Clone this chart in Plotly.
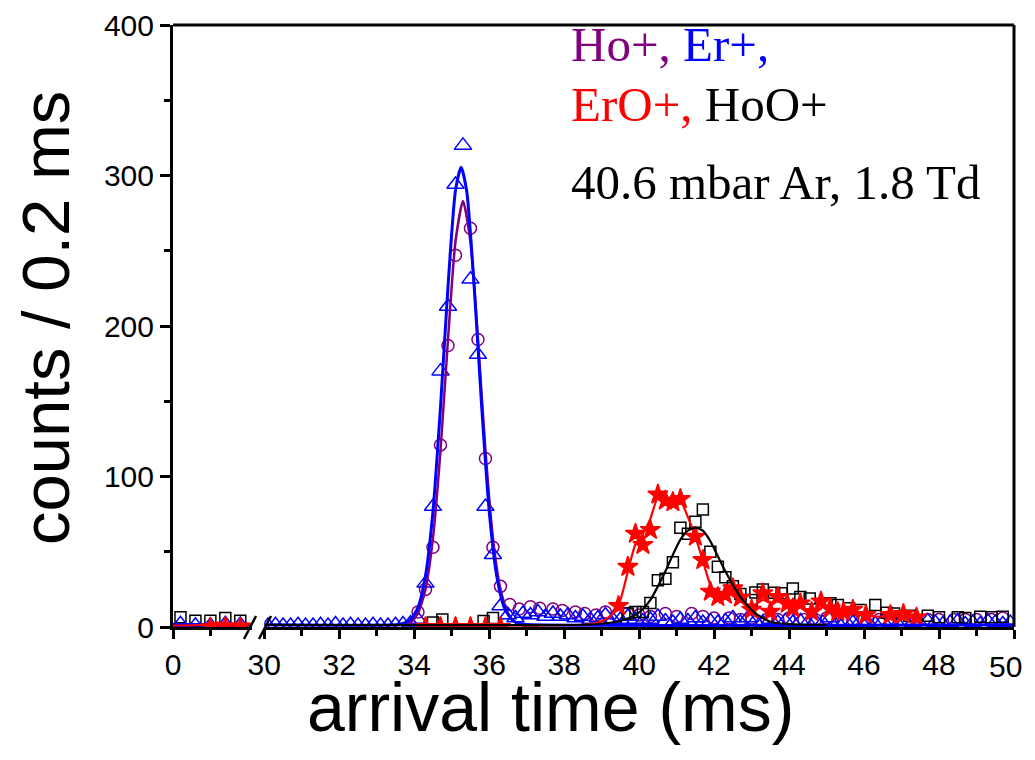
import plotly.graph_objects as go

# ---------------- data: first axis segment (0 - 2.1 ms) ----------------
s1_hoo_t = [0.2, 0.6, 1.0, 1.4, 1.8]
s1_hoo_v = [6.5, 4.2, 4.2, 6.0, 4.2]
s1_er_t = [0.2, 0.6, 1.0, 1.4, 1.8]
s1_er_v = [2.5, 1.5, 1.5, 2.5, 2.0]
s1_ero_t = [1.0, 1.4, 1.8]
s1_ero_v = [0, 0.5, 0]
s1_fit_t = [0.0, 2.1]
s1_fit_blue = [1.5, 1.5]
s1_fit_red_t = [0.0, 0.8, 1.2, 1.6, 2.0, 2.1]
s1_fit_red = [1.0, 1.5, 3.0, 2.5, 2.5, 2.0]

# ---------------- data: main segment (30 - 50 ms) ----------------
# Ho+ (purple circles)
ho_t = [34.1, 34.3, 34.5, 34.7, 34.9, 35.1, 35.5, 35.7, 35.9, 36.1, 36.3, 36.55, 36.8, 37.1,
        37.35, 37.7, 37.95, 38.3, 38.55, 38.85, 39.1, 39.4, 39.7, 40.0, 40.3, 40.7, 41.0, 41.4,
        41.7, 42.0, 42.4, 42.7, 43.0, 43.4, 43.7, 44.0, 44.4, 44.7, 45.0, 45.4, 45.7, 46.0,
        46.4, 46.7, 47.0, 47.4, 47.7, 48.0, 48.4, 48.7, 49.0, 49.4, 49.7]
ho_v = [10, 25, 53, 121, 187, 247, 265, 191, 112, 53, 27, 15, 12, 13.5,
        12.5, 12, 11, 10, 9, 8, 10, 8, 9, 8, 7, 9, 7, 9,
        7, 6, 6, 5, 6, 5, 5, 6, 5, 5, 6, 5, 5, 5,
        5, 5, 5, 5, 5, 5, 5, 5, 5, 5, 6]

# Er+ (blue triangles)
er_t = [30.1, 30.3, 30.5, 30.7, 30.9, 31.1, 31.3, 31.5, 31.7, 31.9, 32.1, 32.3, 32.5, 32.7,
        32.9, 33.1, 33.3, 33.5, 33.7, 33.9, 34.1, 34.3, 34.5, 34.7, 34.9, 35.1, 35.3, 35.5,
        35.7, 35.9, 36.1, 36.3, 36.5, 36.7, 36.9, 37.1, 37.3, 37.5, 37.7, 37.9, 38.1, 38.3,
        38.5, 38.7, 38.9, 39.1, 39.3, 39.5, 39.7, 39.9, 40.1, 40.3, 40.5, 40.7, 40.9, 41.1,
        41.3, 41.5, 41.7, 41.9, 42.1, 42.3, 42.5, 42.7, 42.9, 43.1, 43.3, 43.5, 43.7, 43.9,
        44.1, 44.3, 44.5, 44.7, 44.9, 45.1, 45.3, 45.5, 45.7, 45.9, 46.1, 46.3, 46.5, 46.7,
        46.9, 47.1, 47.3, 47.5, 47.7, 47.9, 48.1, 48.3, 48.5, 48.7, 48.9, 49.1, 49.3, 49.5,
        49.7, 49.9]
er_v = [1, 1.5, 1, 1, 1.5, 1, 1, 1.5, 1, 2, 1, 1.5, 1, 1, 1.5, 1, 1, 1.5, 2, 2.5,
        5, 29, 80, 170, 213, 294, 320, 231, 181, 80, 48, 14,
        8, 6, 9, 8, 10, 7, 9, 7, 8, 6, 7, 5, 6, 8, 5, 5, 7, 5,
        4, 5, 7, 4, 3, 5, 4, 6, 3, 4, 3, 4, 6, 3, 6, 4, 3, 5, 3, 4,
        3, 4, 3, 4, 3, 6, 3, 4, 3, 4, 3, 2, 4, 3, 2, 4, 3, 2, 4, 3,
        2, 3, 4, 2, 3, 2, 4, 3, 2, 3]

# ErO+ (red stars)
ero_t = [34.3, 34.7, 35.1, 35.5, 35.9, 36.3, 39.45, 39.7, 39.9, 40.1, 40.3, 40.5, 40.7, 40.9,
         41.1, 41.5, 41.7, 41.9, 42.1, 42.3, 42.5, 42.7, 43.0, 43.3, 43.5, 43.7, 43.95, 44.1,
         44.3, 44.6, 44.85, 45.1, 45.3, 45.45, 45.7, 46.05, 46.7, 47.05, 47.4]
ero_v = [0, 0, 0, 0, 0, 0, 14, 40, 62, 54.5, 64.5, 88, 84, 83,
         85, 60, 44.5, 23.5, 20, 21.5, 25.7, 19.5, 11.5, 22.4, 10.2, 20, 15.5, 12.4,
         15.7, 10, 17, 12.4, 10, 10, 11.5, 8, 8, 8.6, 6.4]

# HoO+ (black squares)
hoo_t = [34.5, 34.75, 35.85, 36.1, 39.7, 39.9, 40.1, 40.3, 40.5, 40.7, 40.9, 41.1, 41.3, 41.5,
         41.7, 41.9, 42.1, 42.3, 42.5, 42.7, 43.0, 43.1, 43.3, 43.6, 43.8, 44.1, 44.3, 44.55,
         45.1, 45.3, 45.6, 45.9, 46.3, 46.6, 46.8, 47.2, 47.7, 48.0, 48.5, 48.7, 49.1, 49.4, 49.7]
hoo_v = [3, 5, 4, 6, 9, 10, 10, 16, 31, 32, 43, 66, 62, 70,
         78, 50, 40, 33, 27, 22, 18, 23, 25, 22.8, 22.4, 25.5, 20, 19,
         15.7, 14.6, 12.4, 11.3, 14.6, 9.5, 9, 7.5, 7.5, 6.4, 6.4, 6, 6.8, 6.4, 6.8]

# fitted / smoothed curves
fit_blue_t = [30.0, 33.5, 33.7, 33.9, 34.1, 34.3, 34.5, 34.7, 34.9, 35.1, 35.25, 35.4, 35.6,
              35.8, 36.0, 36.2, 36.4, 36.6, 36.8, 37.0, 50.0]
fit_blue_v = [1.5, 1.5, 2.3, 4.9, 13, 34, 77, 146, 226, 290, 305.5, 289.5, 226,
              146, 77, 34, 13, 5, 2.3, 1.6, 1.5]
fit_purple_t = [33.5, 33.9, 34.1, 34.3, 34.5, 34.7, 34.9, 35.1, 35.3, 35.5, 35.7, 35.9, 36.1,
                36.3, 36.5, 36.7, 36.9, 37.3]
fit_purple_v = [1, 3, 9, 25, 59, 117, 191, 256, 283, 256, 191, 117, 59,
                25, 9, 3, 1.2, 1]
fit_red_t = [33.9, 38.5, 38.9, 39.1, 39.3, 39.5, 39.7, 39.9, 40.1, 40.3, 40.5, 40.7, 40.9,
             41.1, 41.3, 41.5, 41.7, 41.9, 42.1, 42.3, 42.5, 42.7, 42.9, 43.1, 43.3, 43.5,
             43.7, 43.9, 44.1, 44.3, 44.5, 44.7, 44.9, 45.1, 45.3, 45.5, 45.7, 45.9, 46.1,
             46.3, 46.5, 46.7, 46.9, 47.1, 47.3, 47.5]
fit_red_v = [1.5, 1.5, 3, 5, 9, 18, 37, 55, 62, 72, 86, 86, 85,
             84, 73, 60, 44, 28, 21, 21, 22, 19, 15, 15, 18, 16,
             17, 15, 13, 13, 11, 11, 13, 12, 11, 10, 10, 9, 8,
             7, 7, 7, 7, 7, 6, 5]
fit_black_t = [30.0, 38.5, 39.1, 39.5, 39.9, 40.1, 40.3, 40.5, 40.7, 40.9, 41.1, 41.3, 41.5,
               41.7, 41.9, 42.1, 42.3, 42.5, 42.7, 42.9, 43.1, 43.3, 43.5, 43.7, 44.1, 45.0]
fit_black_v = [1.5, 1.5, 2.5, 4, 8, 12, 18, 27, 37, 48, 58, 64, 66,
               64, 57, 47, 37, 28, 20, 14, 9, 6, 3.5, 2.5, 1.8, 1.5]

# tick labels
y_ticks = [0, 100, 200, 300, 400]
x2_ticks = [30, 32, 34, 36, 38, 40, 42, 44, 46, 48, 50]
x2_labels = [str(v) for v in x2_ticks[:-1]] + [""]   # last label ("50") is set inside the edge below
last_label = str(x2_ticks[-1])

PURPLE = "#800080"
BLUE = "#0000FF"
RED = "#FF0000"
BLACK = "#000000"

fig = go.Figure()


def markers(t, v, xa, symbol, color, size, filled=False):
    fig.add_trace(go.Scatter(
        x=t, y=v, xaxis=xa, yaxis="y", mode="markers",
        marker=dict(symbol=symbol, size=size,
                    color=color if filled else "rgba(0,0,0,0)",
                    line=dict(color=color, width=1.5)),
        showlegend=False, hoverinfo="skip"))


def curve(t, v, xa, color, width):
    fig.add_trace(go.Scatter(
        x=t, y=v, xaxis=xa, yaxis="y", mode="lines",
        line=dict(color=color, width=width, shape="spline", smoothing=0.6),
        showlegend=False, hoverinfo="skip"))


# segment 1
markers(s1_hoo_t, s1_hoo_v, "x", "square", BLACK, 11)
markers(s1_er_t, s1_er_v, "x", "triangle-up", BLUE, 14)
curve(s1_fit_t, s1_fit_blue, "x", BLUE, 3.5)
curve(s1_fit_red_t, s1_fit_red, "x", RED, 2)
markers(s1_ero_t, s1_ero_v, "x", "star", RED, 14, filled=True)

# main segment: markers
markers(ho_t, ho_v, "x2", "circle", PURPLE, 12)
markers(er_t, er_v, "x2", "triangle-up", BLUE, 15)
markers(hoo_t, hoo_v, "x2", "square", BLACK, 11)
markers(ero_t, ero_v, "x2", "star", RED, 15, filled=True)

# main segment: curves
curve(fit_purple_t, fit_purple_v, "x2", PURPLE, 2.5)
curve(fit_blue_t, fit_blue_v, "x2", BLUE, 3)
curve(fit_red_t, fit_red_v, "x2", RED, 2.2)
curve(fit_black_t, fit_black_v, "x2", BLACK, 2.2)

# page has an 8 px body margin; figure positioned so the plot box lands where the reference has it
OFF = 8
W, H = 1027, 752
L, T = 173 - OFF, 25 - OFF
R = W - (1014 - OFF)
B = H - (627 - OFF)
pw = W - L - R
ph = H - T - B


def px(xp):  # page pixel -> paper x
    return (xp - OFF - L) / pw


def py(yp):  # page pixel -> paper y
    return (627 - yp) / ph


tick_font = dict(family="Liberation Sans, Arial", size=30, color="black")
axis_common = dict(showline=True, linecolor="black", linewidth=3, ticks="outside",
                   tickcolor="black", tickwidth=2.5, showgrid=False, zeroline=False,
                   ticklabeloverflow="allow", tickfont=tick_font)

fig.update_layout(
    width=W, height=H,
    margin=dict(l=L, r=R, t=T, b=B, autoexpand=False),
    paper_bgcolor="white", plot_bgcolor="white",
    xaxis=dict(domain=[0, px(251.5)], range=[0, 2.1], anchor="y",
               tickvals=[0], ticktext=["0"], ticklen=9,
               minor=dict(tickvals=[1], ticks="outside", ticklen=6, tickcolor="black", tickwidth=2.5),
               **axis_common),
    xaxis2=dict(domain=[px(264.3), 1], range=[30, 50], anchor="y",
                tickvals=x2_ticks, ticktext=x2_labels, ticklen=9,
                minor=dict(dtick=1, tick0=30, ticks="outside", ticklen=6, tickcolor="black", tickwidth=2.5),
                **axis_common),
    yaxis=dict(range=[0, 400], anchor="x", tickvals=y_ticks, ticktext=[str(v) for v in y_ticks],
               ticklen=10,
               minor=dict(dtick=50, tick0=0, ticks="outside", ticklen=6, tickcolor="black", tickwidth=2.5),
               **axis_common),
)

# last x tick label, kept inside the page edge as in the reference
fig.add_annotation(text=last_label, xref="paper", yref="paper", x=px(1005), y=py(666),
                   xanchor="center", yanchor="middle", showarrow=False, font=tick_font)

# frame (top and right) and axis break marks
fig.add_shape(type="line", xref="paper", yref="paper", x0=0, x1=1, y0=1, y1=1,
              line=dict(color="black", width=3))
fig.add_shape(type="line", xref="paper", yref="paper", x0=1, x1=1, y0=0, y1=1,
              line=dict(color="black", width=3))
fig.add_shape(type="line", xref="paper", yref="paper", x0=px(244), x1=px(256), y0=py(639), y1=py(616),
              line=dict(color="black", width=2.5))
fig.add_shape(type="line", xref="paper", yref="paper", x0=px(259), x1=px(271), y0=py(639), y1=py(616),
              line=dict(color="black", width=2.5))

# axis titles
fig.add_annotation(text="counts / 0.2 ms", xref="paper", yref="paper", x=px(45), y=py(318),
                   xanchor="center", yanchor="middle", textangle=-90, showarrow=False,
                   font=dict(family="Liberation Sans, Arial", size=67, color="black"))
fig.add_annotation(text="arrival time (ms)", xref="paper", yref="paper", x=px(550), y=py(707),
                   xanchor="center", yanchor="middle", showarrow=False,
                   font=dict(family="Liberation Sans, Arial", size=68, color="black"))

# in-plot labels
serif = dict(family="Liberation Serif, Times New Roman", size=49, color="black")
fig.add_annotation(text=f'<span style="color:{PURPLE}">Ho+,</span> <span style="color:{BLUE}">Er+,</span>',
                   xref="paper", yref="paper", x=px(569), y=py(44), xanchor="left", yanchor="middle",
                   showarrow=False, font=serif)
fig.add_annotation(text=f'<span style="color:{RED}">ErO+,</span> HoO+',
                   xref="paper", yref="paper", x=px(569), y=py(105), xanchor="left", yanchor="middle",
                   showarrow=False, font=serif)
fig.add_annotation(text="40.6 mbar Ar, 1.8 Td",
                   xref="paper", yref="paper", x=px(569), y=py(182), xanchor="left", yanchor="middle",
                   showarrow=False, font=serif)

fig.write_html("out.html")
